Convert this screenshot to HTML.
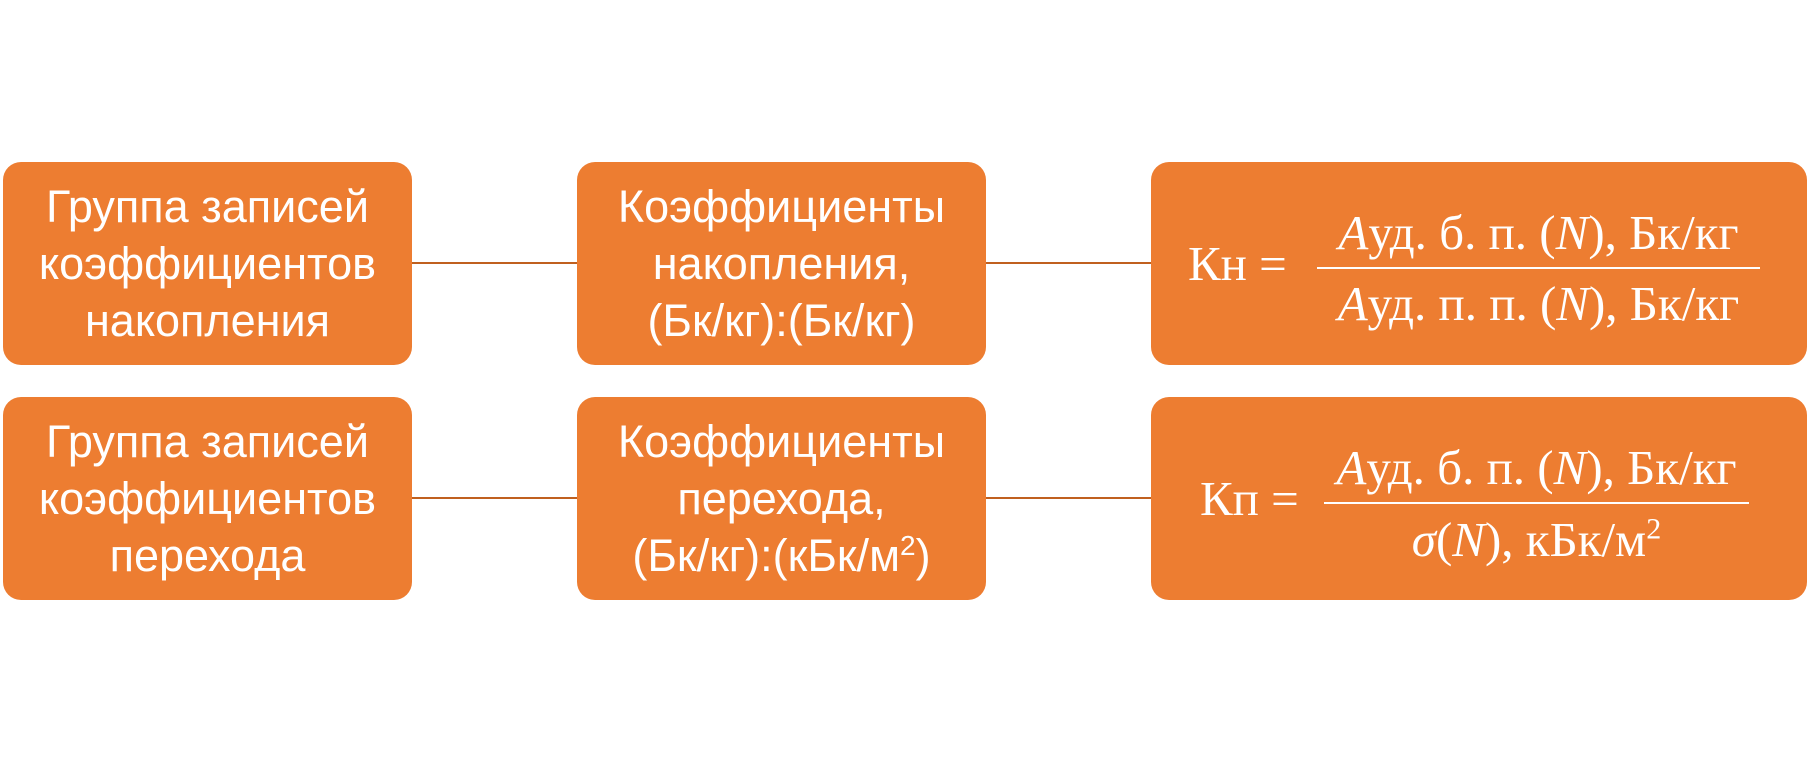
<!DOCTYPE html>
<html><head><meta charset="utf-8"><style>
body{margin:0;width:1809px;height:761px;background:#fff;position:relative;overflow:hidden}
.b{position:absolute;background:#ED7D31;border-radius:18px;color:#fff;display:flex;align-items:center;justify-content:center;text-align:center;font-family:"Liberation Sans Narrow","Liberation Sans",sans-serif;font-size:45px;line-height:57px}
.l{position:absolute;height:2px;background:#C0601F}
.f{position:absolute;color:#fff;font-family:"Liberation Serif",serif;font-size:49px;white-space:nowrap;line-height:56px}
.bar{position:absolute;height:2px;background:#fff}
i{font-style:italic}
</style></head><body>
<div class="b" style="left:3px;top:162px;width:409px;height:203px"><div>Группа записей<br>коэффициентов<br>накопления</div></div>
<div class="b" style="left:577px;top:162px;width:409px;height:203px"><div>Коэффициенты<br>накопления,<br>(Бк/кг):(Бк/кг)</div></div>
<div class="b" style="left:1151px;top:162px;width:656px;height:203px"></div>
<div class="b" style="left:3px;top:397px;width:409px;height:203px"><div>Группа записей<br>коэффициентов<br>перехода</div></div>
<div class="b" style="left:577px;top:397px;width:409px;height:203px"><div>Коэффициенты<br>перехода,<br>(Бк/кг):(кБк/м<sup style="font-size:28px;line-height:0">2</sup>)</div></div>
<div class="b" style="left:1151px;top:397px;width:656px;height:203px"></div>
<div class="l" style="left:412px;top:262px;width:165px"></div>
<div class="l" style="left:986px;top:262px;width:165px"></div>
<div class="l" style="left:412px;top:497px;width:165px"></div>
<div class="l" style="left:986px;top:497px;width:165px"></div>

<div class="f" style="left:1188px;top:236px">Кн =</div>
<div class="f" style="left:1317px;top:205px;width:443px;text-align:center"><i>A</i>уд. б. п. (<i>N</i>), Бк/кг</div>
<div class="bar" style="left:1317px;top:267px;width:443px"></div>
<div class="f" style="left:1317px;top:276px;width:443px;text-align:center"><i>A</i>уд. п. п. (<i>N</i>), Бк/кг</div>

<div class="f" style="left:1200px;top:471px">Кп =</div>
<div class="f" style="left:1324px;top:440px;width:425px;text-align:center"><i>A</i>уд. б. п. (<i>N</i>), Бк/кг</div>
<div class="bar" style="left:1324px;top:502px;width:425px"></div>
<div class="f" style="left:1324px;top:512px;width:425px;text-align:center"><i>σ</i>(<i>N</i>), кБк/м<sup style="font-size:30px;line-height:0">2</sup></div>
</body></html>
